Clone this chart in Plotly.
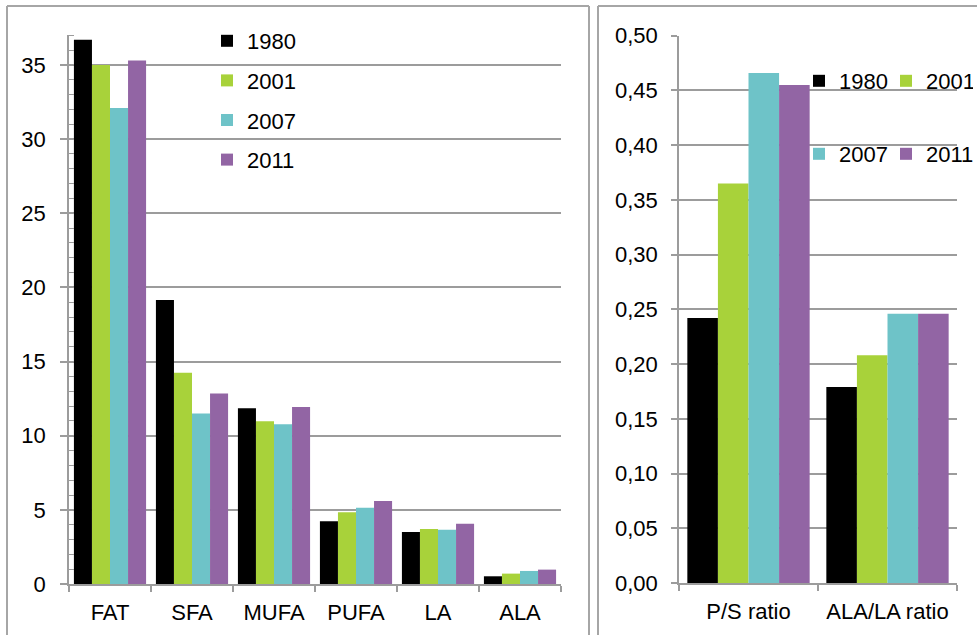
import plotly.graph_objects as go

W, H = 977, 635

years = ["1980", "2001", "2007", "2011"]
colors = ["#000000", "#A8D23A", "#6EC3C8", "#9265A4"]

left_categories = ["FAT", "SFA", "MUFA", "PUFA", "LA", "ALA"]
left_1980 = [36.7, 19.15, 11.85, 4.23, 3.50, 0.52]
left_2001 = [35.0, 14.25, 10.97, 4.83, 3.71, 0.70]
left_2007 = [32.1, 11.50, 10.77, 5.15, 3.66, 0.88]
left_2011 = [35.3, 12.85, 11.94, 5.60, 4.07, 0.97]

right_categories = ["P/S ratio", "ALA/LA ratio"]
right_1980 = [0.242, 0.179]
right_2001 = [0.365, 0.208]
right_2007 = [0.466, 0.246]
right_2011 = [0.455, 0.246]

left_series = [left_1980, left_2001, left_2007, left_2011]
right_series = [right_1980, right_2001, right_2007, right_2011]

FONT = "Liberation Sans, Arial, sans-serif"
FS = 22
GRID = "#9C9C9C"
AXIS = "#9C9C9C"

def px(x):
    return x / W

def py(y):
    return 1 - y / H

fig = go.Figure()

for i, (yr, vals) in enumerate(zip(years, left_series)):
    fig.add_trace(go.Bar(
        x=left_categories, y=vals, name=yr, marker=dict(color=colors[i], line=dict(width=0)),
        xaxis="x", yaxis="y", legend="legend", legendgroup="L" + yr, showlegend=True,
    ))

right_legends = ["legend2", "legend2", "legend3", "legend3"]
for i, (yr, vals) in enumerate(zip(years, right_series)):
    fig.add_trace(go.Bar(
        x=right_categories, y=vals, name=yr, marker=dict(color=colors[i], line=dict(width=0)),
        xaxis="x2", yaxis="y2", legend=right_legends[i], showlegend=True,
    ))

tickfont = dict(family=FONT, size=FS, color="#000000")
legfont = dict(family=FONT, size=FS, color="#000000")

fig.update_layout(
    width=W, height=H,
    margin=dict(l=0, r=0, t=0, b=0, autoexpand=False),
    paper_bgcolor="white", plot_bgcolor="white",
    separators=",.",
    barmode="group",
    bargap=0.12, bargroupgap=0,
    font=dict(family=FONT, size=FS, color="#000000"),
    xaxis=dict(
        domain=[px(69), px(561)], anchor="y", type="category",
        showline=True, linecolor=AXIS, linewidth=1.5,
        ticks="outside", ticklen=6, tickcolor=AXIS, tickwidth=1.5,
        tickson="boundaries", showgrid=False, tickfont=tickfont,
        ticklabelstandoff=8, automargin=False,
    ),
    yaxis=dict(
        domain=[py(584), py(35.3)], anchor="x", range=[0, 37],
        tickvals=[0, 5, 10, 15, 20, 25, 30, 35],
        showline=True, linecolor=AXIS, linewidth=1.5,
        ticks="outside", ticklen=7, tickcolor=AXIS, tickwidth=1.5,
        minor=dict(ticks="inside", ticklen=5, dtick=1, tick0=0, tickcolor=AXIS, tickwidth=1, showgrid=False),
        showgrid=True, gridcolor=GRID, gridwidth=1.5,
        zeroline=False, tickfont=tickfont, ticklabelstandoff=10, automargin=False,
    ),
    xaxis2=dict(
        domain=[px(679), px(957)], anchor="y2", type="category",
        showline=True, linecolor=AXIS, linewidth=1.5,
        ticks="outside", ticklen=6, tickcolor=AXIS, tickwidth=1.5,
        tickson="boundaries", showgrid=False, tickfont=tickfont,
        ticklabelstandoff=8, automargin=False,
    ),
    yaxis2=dict(
        domain=[py(583), py(35.7)], anchor="x2", range=[0, 0.5],
        dtick=0.05, tick0=0, tickformat=".2f",
        showline=True, linecolor=AXIS, linewidth=1.5,
        ticks="outside", ticklen=6, tickcolor=AXIS, tickwidth=1.5,
        showgrid=True, gridcolor=GRID, gridwidth=1.5,
        zeroline=False, tickfont=tickfont, ticklabelstandoff=9, automargin=False,
    ),
    legend=dict(
        x=px(207), y=py(20), xanchor="left", yanchor="top",
        bgcolor="rgba(0,0,0,0)", borderwidth=0, font=legfont,
        tracegroupgap=8, traceorder="grouped",
    ),
    legend2=dict(
        x=px(799), y=py(60), xanchor="left", yanchor="top", orientation="h",
        bgcolor="rgba(0,0,0,0)", borderwidth=0, font=legfont,
        entrywidth=42, entrywidthmode="pixels",
    ),
    legend3=dict(
        x=px(799), y=py(133), xanchor="left", yanchor="top", orientation="h",
        bgcolor="rgba(0,0,0,0)", borderwidth=0, font=legfont,
        entrywidth=42, entrywidthmode="pixels",
    ),
)

border = dict(color="#A6A6A6", width=2)
shapes = [
    dict(type="line", xref="paper", yref="paper", x0=px(7), x1=px(7), y0=py(6), y1=0, line=border),
    dict(type="line", xref="paper", yref="paper", x0=px(7), x1=px(589), y0=py(6), y1=py(6), line=border),
    dict(type="line", xref="paper", yref="paper", x0=px(589), x1=px(589), y0=py(6), y1=0, line=border),
    dict(type="line", xref="paper", yref="paper", x0=px(598), x1=px(598), y0=py(6), y1=0, line=border),
    dict(type="line", xref="paper", yref="paper", x0=px(598), x1=1, y0=py(6), y1=py(6), line=border),
]
fig.update_layout(shapes=shapes)

fig.write_html(
    "out.html",
    config={"displayModeBar": False},
    post_script="document.body.style.margin='0';document.body.style.overflow='hidden';",
)
